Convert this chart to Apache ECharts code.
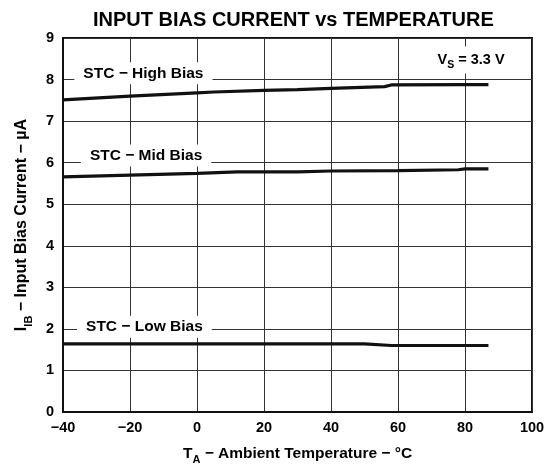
<!DOCTYPE html>
<html>
<head>
<meta charset="utf-8">
<script src="https://cdn.jsdelivr.net/npm/echarts@6/dist/echarts.min.js"></script>
<style>
html,body{margin:0;padding:0;background:#fff;}
#chart{width:558px;height:467px;}
</style>
</head>
<body>
<div id="chart"></div>
<script>
// Data (temperature in °C, input bias current in µA)
const highT = [-40, -20, 0, 5, 20, 30, 40, 56, 58, 80, 87];
const highIB = [7.51, 7.60, 7.68, 7.70, 7.74, 7.76, 7.79, 7.83, 7.87, 7.88, 7.88];
const midT = [-40, -20, 0, 12, 30, 40, 60, 78, 80, 87];
const midIB = [5.66, 5.70, 5.74, 5.78, 5.78, 5.80, 5.81, 5.83, 5.85, 5.85];
const lowT = [-40, 50, 58, 87];
const lowIB = [1.64, 1.64, 1.60, 1.60];

const seriesNames = ['STC \u2212 High Bias', 'STC \u2212 Mid Bias', 'STC \u2212 Low Bias'];
const labelT = [-16, -15.2, -15.7];
const labelIB = [8.15, 6.17, 2.05];
const vsLabelT = 81.8;
const vsLabelIB = 8.47;

const xTicks = [-40, -20, 0, 20, 40, 60, 80, 100];
const yTicks = [0, 1, 2, 3, 4, 5, 6, 7, 8, 9];

const FONT = 'Liberation Sans, Arial, Helvetica, sans-serif';

function pairs(xs, ys) { return xs.map((x, i) => [x, ys[i]]); }

const labelStyle = {
  show: true, position: 'inside', color: '#000', fontFamily: FONT,
  fontWeight: 'bold', fontSize: 15.5, backgroundColor: '#fff', padding: [3, 9]
};

function makeLine(name, xs, ys, idx, extraMarks) {
  const marks = [{ name: name, coord: [labelT[idx], labelIB[idx]], label: Object.assign({}, labelStyle, { formatter: name }) }];
  if (extraMarks) marks.push(...extraMarks);
  return {
    type: 'line', name: name, data: pairs(xs, ys), showSymbol: false, symbol: 'none',
    lineStyle: { color: '#111', width: 3.2 }, silent: true, animation: false,
    markPoint: { symbol: 'circle', symbolSize: 0, animation: false, silent: true, data: marks }
  };
}

const vsMark = {
  name: 'vs', coord: [vsLabelT, vsLabelIB],
  label: {
    show: true, position: 'inside', backgroundColor: '#fff', padding: [3, 4],
    formatter: '{m|V}{s|S}{m| = 3.3 V}',
    rich: {
      m: { fontFamily: FONT, fontWeight: 'bold', fontSize: 14.5, color: '#000', lineHeight: 16, verticalAlign: 'middle' },
      s: { fontFamily: FONT, fontWeight: 'bold', fontSize: 10.5, color: '#000', lineHeight: 21, verticalAlign: 'bottom' }
    }
  }
};

const chart = echarts.init(document.getElementById('chart'), null, { renderer: 'canvas' });
chart.setOption({
  backgroundColor: '#fff',
  animation: false,
  title: {
    text: 'INPUT BIAS CURRENT vs TEMPERATURE',
    left: 88, top: 5,
    textStyle: { fontFamily: FONT, fontWeight: 'bold', fontSize: 20, color: '#000' }
  },
  grid: {
    left: 63, right: 26, top: 38, bottom: 55, containLabel: false, outerBoundsMode: 'none',
    show: true, borderColor: '#111', borderWidth: 2, backgroundColor: 'transparent'
  },
  xAxis: {
    type: 'value', min: xTicks[0], max: xTicks[xTicks.length - 1], interval: 20,
    axisLine: { show: true, onZero: false, lineStyle: { color: '#111', width: 2 } },
    axisTick: { show: false },
    splitLine: { show: true, lineStyle: { color: '#333', width: 1 } },
    axisLabel: {
      margin: 8, color: '#000', fontFamily: FONT, fontWeight: 'bold', fontSize: 14.5,
      formatter: v => (v < 0 ? '\u2212' + Math.abs(v) : String(v))
    },
    name: '{m|T}{s|A}{m| \u2212 Ambient Temperature \u2212 \u00B0C}',
    nameLocation: 'middle', nameGap: 30,
    nameTextStyle: {
      rich: {
        m: { fontFamily: FONT, fontWeight: 'bold', fontSize: 15.5, color: '#000', lineHeight: 17, verticalAlign: 'middle' },
        s: { fontFamily: FONT, fontWeight: 'bold', fontSize: 11, color: '#000', lineHeight: 23, verticalAlign: 'bottom' }
      }
    }
  },
  yAxis: {
    type: 'value', min: yTicks[0], max: yTicks[yTicks.length - 1], interval: 1,
    axisLine: { show: true, onZero: false, lineStyle: { color: '#111', width: 2 } },
    axisTick: { show: false },
    splitLine: { show: true, lineStyle: { color: '#333', width: 1 } },
    axisLabel: { margin: 9, color: '#000', fontFamily: FONT, fontWeight: 'bold', fontSize: 14.5 },
    name: '{m|I}{s|IB}{m| \u2212 Input Bias Current \u2212 \u00B5A}',
    nameLocation: 'middle', nameGap: 29, nameRotate: 90,
    nameTextStyle: {
      rich: {
        m: { fontFamily: FONT, fontWeight: 'bold', fontSize: 16, color: '#000', lineHeight: 18, verticalAlign: 'middle' },
        s: { fontFamily: FONT, fontWeight: 'bold', fontSize: 11, color: '#000', lineHeight: 24, verticalAlign: 'bottom' }
      }
    }
  },
  series: [
    makeLine(seriesNames[0], highT, highIB, 0, [vsMark]),
    makeLine(seriesNames[1], midT, midIB, 1),
    makeLine(seriesNames[2], lowT, lowIB, 2)
  ]
});
</script>
</body>
</html>
